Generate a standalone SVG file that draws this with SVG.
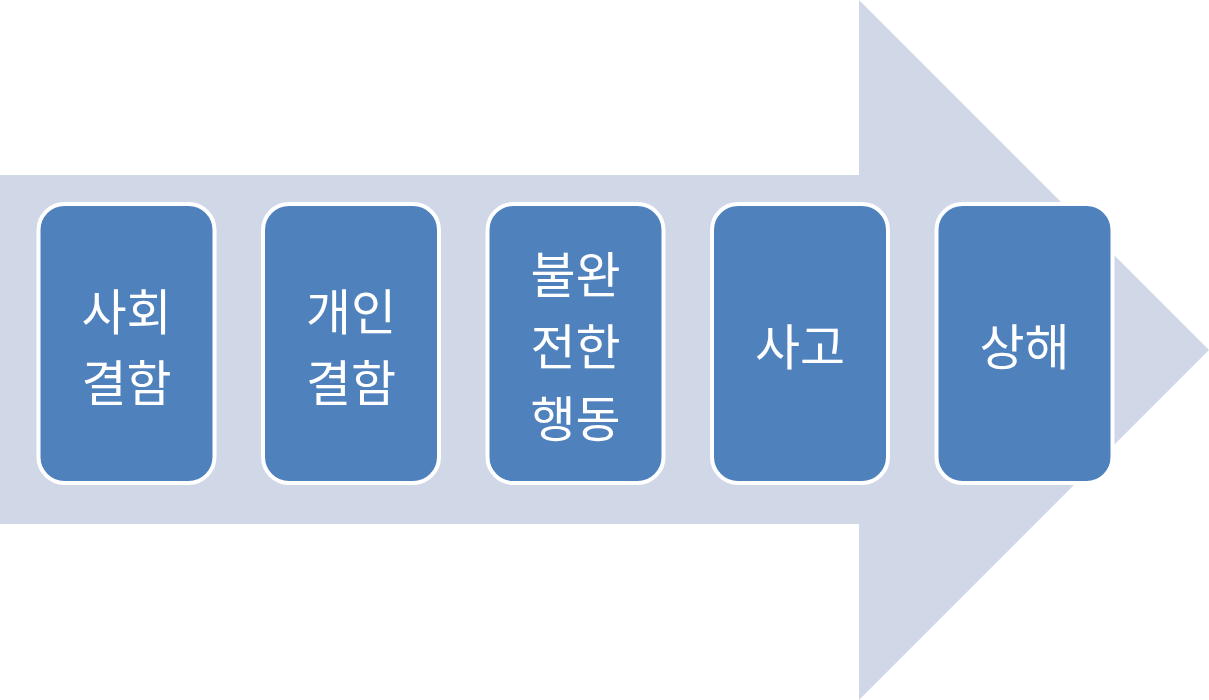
<svg xmlns="http://www.w3.org/2000/svg" width="1209" height="700" viewBox="0 0 1209 700">
<style>
.bg{fill:#ffffff}
.arrow{fill:#D0D8E8}
.box{fill:#4F81BD;stroke:#ffffff;stroke-width:4}
.lbl{fill:#ffffff;font-family:"Noto Sans CJK KR","Noto Sans",sans-serif;font-size:49px;text-anchor:middle;dominant-baseline:central}
</style>
<rect class="bg" x="0" y="0" width="1209" height="700"/>
<g id="arrow">
<polygon class="arrow" points="0,175 859,175 859,0 1209,350 859,700 859,524 0,524"/>
</g>
<g id="node1">
<rect class="box" x="38.5" y="204" width="176" height="279" rx="26"/>
<text class="lbl" x="126.5" y="308">사회</text>
<text class="lbl" x="126.5" y="379">결함</text>
</g>
<g id="node2">
<rect class="box" x="263" y="204" width="176" height="279" rx="26"/>
<text class="lbl" x="351" y="308">개인</text>
<text class="lbl" x="351" y="379">결함</text>
</g>
<g id="node3">
<rect class="box" x="487.5" y="204" width="176" height="279" rx="26"/>
<text class="lbl" x="575.5" y="271">불완</text>
<text class="lbl" x="575.5" y="343">전한</text>
<text class="lbl" x="575.5" y="415">행동</text>
</g>
<g id="node4">
<rect class="box" x="712" y="204" width="176" height="279" rx="26"/>
<text class="lbl" x="800" y="343">사고</text>
</g>
<g id="node5">
<rect class="box" x="936.5" y="204" width="176" height="279" rx="26"/>
<text class="lbl" x="1024.5" y="343">상해</text>
</g>
<g id="connectors"></g>
</svg>
